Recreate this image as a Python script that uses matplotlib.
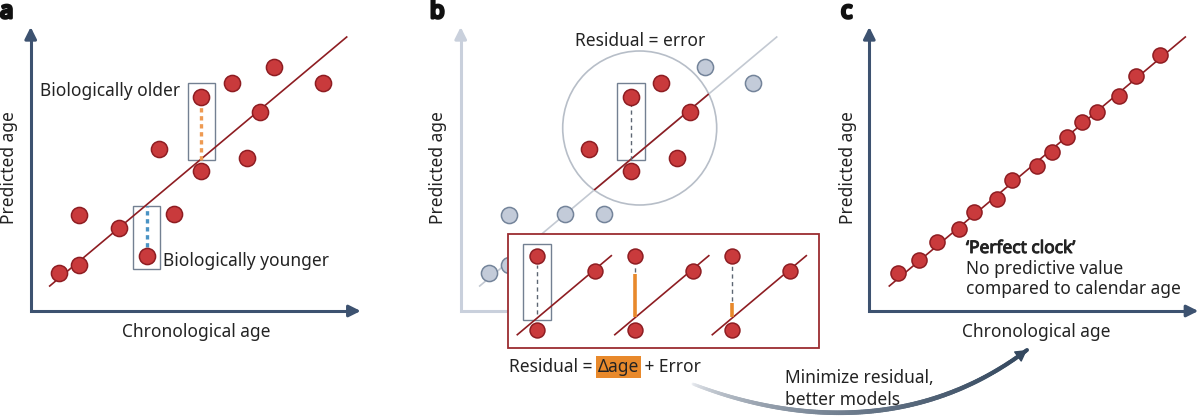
import numpy as np
import matplotlib.pyplot as plt
import matplotlib.patheffects as pe
from matplotlib.patches import Rectangle, Circle, FancyArrowPatch
from matplotlib.collections import LineCollection
from matplotlib.colors import to_rgba

W, H = 1200, 417

plt.rcParams['font.family'] = ['Noto Sans', 'DejaVu Sans']

# Colours
AXIS_COLOR = '#3d5270'
LIGHT_AXIS = '#c9d0dc'
FIT_COLOR = '#8e1d22'
DOT_FILL = '#c93a3c'
DOT_EDGE = '#8e1d22'
GREY_FILL = '#c3cbd9'
GREY_EDGE = '#74849a'
BOX_EDGE = '#738092'
ORANGE = '#e8892b'
ORANGE_DOT = '#ee9a52'
BLUE_DOT = '#4a93c4'
INSET_EDGE = '#9b2c30'
TEXT = '#232323'
FS = 12.5

# Panel a: chronological vs predicted age (arbitrary units, origin at axis corner)
a_chron = [28, 48, 48, 88, 116, 143, 128, 170, 170, 216, 201, 229, 243, 292]
a_pred = [38, 46, 96, 83, 55, 97, 162, 140, 214, 153, 228, 199, 244, 228]
fit_x = [19, 316]
fit_y = [25, 274]

# Panel b: points outside (grey) and inside (red) the highlighted region
b_grey_chron = [28, 48, 48, 104, 143, 244, 292]
b_grey_pred = [38, 46, 96, 97, 97, 244, 228]
b_red_chron = [128, 170, 170, 200, 216, 229]
b_red_pred = [162, 140, 214, 228, 153, 199]
b_circle_centre = (179, 183)
b_circle_radius = 77

# Panel b inset: three mini clocks, residual split into delta-age + error
mini_chron = [29, 29, 87]
mini_pred = [92, 18, 77]
mini_fit_x = [9, 103]
mini_fit_y = [13, 92]
mini_shift = [0, 97.5, 195]
delta_age = [0, 43, 14]
mini_line_base = 31

# Panel c: perfect clock
c_chron = [29, 50, 68, 90, 105, 128, 143, 168, 183, 198, 213, 228, 250, 267, 291]
c_pred = [38, 51, 69, 82, 99, 112, 131, 145, 159, 174, 189, 199, 215, 235, 256]
c_fit_x = [20, 316]
c_fit_y = [25, 274]

fig = plt.figure(figsize=(W / 100, H / 100), dpi=100)


def panel_axes(x0, y0, w, h):
    # x0, y0: pixel position of the axis corner (y measured from top)
    ax = fig.add_axes([x0 / W, (H - y0) / H, w / W, h / H])
    ax.set_xlim(0, w)
    ax.set_ylim(0, h)
    ax.axis('off')
    return ax


def draw_arrow_axes(ax, w, h, color):
    ax.plot([0, 0, w - 6], [h - 6, 0, 0], color=color, lw=2.2,
            solid_joinstyle='miter', solid_capstyle='butt', clip_on=False)
    for end, start in [((0, h), (0, h - 10)), ((w, 0), (w - 10, 0))]:
        ax.annotate('', xy=end, xytext=start, annotation_clip=False,
                    arrowprops=dict(arrowstyle='-|>,head_length=0.7,head_width=0.35',
                                    color=color, lw=2.2, shrinkA=0, shrinkB=0))


def dots(ax, x, y, fill, edge, size=135):
    ax.scatter(x, y, s=size, facecolor=fill, edgecolor=edge, linewidth=1.1,
               zorder=5, clip_on=False)


# ---- panel a ----
ax_a = panel_axes(30.7, 311, 330, 284)
draw_arrow_axes(ax_a, 330, 284, AXIS_COLOR)
ax_a.plot(fit_x, fit_y, color=FIT_COLOR, lw=1.2, zorder=3)
ax_a.add_patch(Rectangle((157, 151), 27, 77, fill=False, ec=BOX_EDGE, lw=1.0, zorder=2))
ax_a.add_patch(Rectangle((102, 42), 27, 63, fill=False, ec=BOX_EDGE, lw=1.0, zorder=2))
ax_a.plot([170, 170], [151, 206], color=ORANGE_DOT, lw=2.4, ls=(0, (1.3, 1.1)), zorder=4)
ax_a.plot([116, 116], [64, 105], color=BLUE_DOT, lw=2.4, ls=(0, (1.3, 1.1)), zorder=4)
dots(ax_a, a_chron, a_pred, DOT_FILL, DOT_EDGE)

# ---- panel b ----
ax_b = panel_axes(460.7, 311, 330, 284)
draw_arrow_axes(ax_b, 120, 284, LIGHT_AXIS)
circle = Circle(b_circle_centre, b_circle_radius, fill=False, ec='#b7bec8', lw=1.2, zorder=2)
ax_b.add_patch(circle)
ax_b.plot(fit_x, fit_y, color='#c3c9d2', lw=1.2, zorder=3)
red_seg, = ax_b.plot(fit_x, fit_y, color=FIT_COLOR, lw=1.2, zorder=3)
red_seg.set_clip_path(circle)
ax_b.add_patch(Rectangle((156, 151), 28, 77, fill=False, ec=BOX_EDGE, lw=1.0, zorder=2))
ax_b.plot([170, 170], [151, 206], color='#5d6673', lw=1.0, ls=(0, (3, 2.5)), zorder=4)
dots(ax_b, b_grey_chron, b_grey_pred, GREY_FILL, GREY_EDGE)
dots(ax_b, b_red_chron, b_red_pred, DOT_FILL, DOT_EDGE)

# inset with the three mini clocks
ax_in = panel_axes(508.3, 347.7, 311, 113.4)
ax_in.add_patch(Rectangle((0, 0), 311, 113.4, fc='white', ec=INSET_EDGE, lw=1.3,
                          clip_on=False, zorder=1))
ax_in.add_patch(Rectangle((15, 28), 28, 76, fill=False, ec=BOX_EDGE, lw=1.0, zorder=2))
for shift, delta in zip(mini_shift, delta_age):
    mx = np.array(mini_chron) + shift
    ax_in.plot(np.array(mini_fit_x) + shift, mini_fit_y, color=FIT_COLOR, lw=1.2, zorder=3)
    top = mini_line_base + delta
    ax_in.plot([mx[0], mx[0]], [top + 2 if delta else mini_line_base + 3, 83],
               color='#5d6673', lw=1.0, ls=(0, (3, 2.5)), zorder=3)
    if delta:
        ax_in.plot([mx[0], mx[0]], [mini_line_base, top], color=ORANGE, lw=2.6,
                   solid_capstyle='butt', zorder=3)
    dots(ax_in, mx, mini_pred, DOT_FILL, DOT_EDGE, size=115)

# ---- panel c ----
ax_c = panel_axes(869.3, 311, 329, 284)
draw_arrow_axes(ax_c, 329, 284, AXIS_COLOR)
ax_c.plot(c_fit_x, c_fit_y, color=FIT_COLOR, lw=1.2, zorder=3)
dots(ax_c, c_chron, c_pred, DOT_FILL, DOT_EDGE, size=118)

# ---- overlay: texts and the curved arrow ----
ov = fig.add_axes([0, 0, 1, 1])
ov.set_xlim(0, W)
ov.set_ylim(H, 0)
ov.axis('off')
ov.patch.set_alpha(0)

txt = dict(fontsize=FS, color=TEXT, va='center')
for label, x in [('a', 0), ('b', 430), ('c', 841)]:
    ov.text(x, 12, label, fontsize=17, fontweight='bold', color='#111111', va='center',
            path_effects=[pe.withStroke(linewidth=2.2, foreground='#111111')])

ov.text(40, 91, 'Biologically older', ha='left', **txt)
ov.text(163, 261, 'Biologically younger', ha='left', **txt)
ov.text(9, 168, 'Predicted age', rotation=90, ha='center', **txt)
ov.text(196, 332, 'Chronological age', ha='center', **txt)

ov.text(438, 168, 'Predicted age', rotation=90, ha='center', **txt)
ov.text(640, 41, 'Residual = error', ha='center', **txt)
t1 = ov.text(509, 367, 'Residual = ', ha='left', **txt)
t2 = ov.annotate('Δage', xy=(1, 0), xycoords=t1, xytext=(0.5, 0), textcoords='offset points',
                 fontsize=FS, color=TEXT, va='bottom', ha='left',
                 bbox=dict(boxstyle='square,pad=0.12', fc=ORANGE, ec='none'))
ov.annotate(' + Error', xy=(1, 0), xycoords=t2, xytext=(0.5, 0), textcoords='offset points',
            fontsize=FS, color=TEXT, va='bottom', ha='left')

ov.text(848, 168, 'Predicted age', rotation=90, ha='center', **txt)
ov.text(1036, 332, 'Chronological age', ha='center', **txt)
ov.text(966, 248, '\u2018Perfect clock\u2019', ha='left', fontweight='bold',
        path_effects=[pe.withStroke(linewidth=0.7, foreground=TEXT)], **txt)
ov.text(966, 269, 'No predictive value', ha='left', **txt)
ov.text(966, 289, 'compared to calendar age', ha='left', **txt)

ov.text(785, 378, 'Minimize residual,', ha='left', **txt)
ov.text(785, 400, 'better models', ha='left', **txt)

# curved gradient arrow (cubic Bezier)
p0, p1, p2, p3 = map(np.array, [(693, 384), (760, 410), (900, 446), (1027, 350)])
t = np.linspace(0, 1, 200)[:, None]
curve = ((1 - t) ** 3) * p0 + 3 * t * (1 - t) ** 2 * p1 + 3 * t ** 2 * (1 - t) * p2 + t ** 3 * p3
segs = np.stack([curve[:-1], curve[1:]], axis=1)
c_start = np.array(to_rgba('#eef0f4'))
c_end = np.array(to_rgba('#34485f'))
frac = np.linspace(0, 1, len(segs))[:, None] ** 0.6
cols = c_start * (1 - frac) + c_end * frac
widths = 1.8 + 1.6 * np.sin(np.linspace(0.2, 2.4, len(segs)))
ov.add_collection(LineCollection(segs, colors=cols, linewidths=widths, capstyle='round'))
ov.add_patch(FancyArrowPatch(tuple(curve[-8]), tuple(p3), arrowstyle='-|>,head_length=7,head_width=4',
                             color='#34485f', lw=1, shrinkA=0, shrinkB=0))

fig.savefig('out.png', dpi=100)
